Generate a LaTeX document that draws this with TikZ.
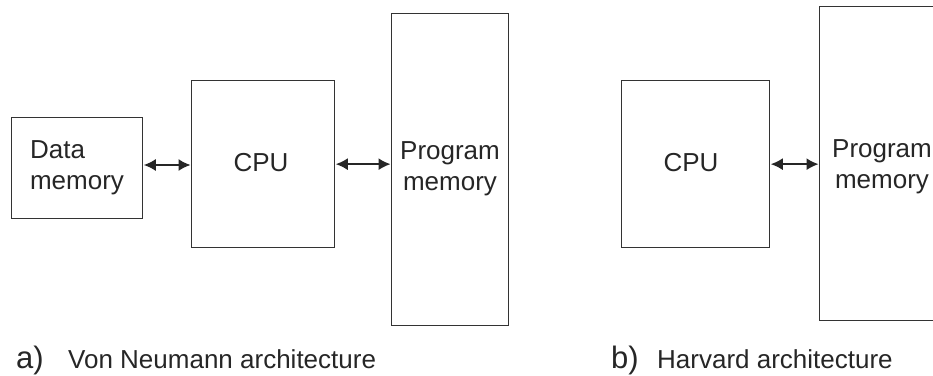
\documentclass[tikz,border=0pt]{standalone}
\usepackage{fontspec}
\setmainfont{Liberation Sans}
\usetikzlibrary{arrows.meta}
\definecolor{ln}{HTML}{333333}
\definecolor{tx}{HTML}{262626}
\tikzset{
  box/.style={draw=ln, line width=1.3pt, anchor=north west, inner sep=0pt},
  lbl/.style={text=tx, font=\fontsize{26}{31}\selectfont, align=center, inner sep=0pt},
  lbll/.style={text=tx, font=\fontsize{26}{31}\selectfont, align=left, inner sep=0pt},
  captxt/.style={text=tx, font=\fontsize{26}{31}\selectfont, anchor=base west, inner sep=0pt},
  capletter/.style={text=tx, font=\fontsize{31}{36}\selectfont, anchor=base west, inner sep=0pt},
  link/.style={draw=black!85, line width=1.5pt, {Latex[length=12pt,width=12pt]}-{Latex[length=12pt,width=12pt]}, shorten <=0.5pt, shorten >=0.5pt}
}
\begin{document}
\begin{tikzpicture}[x=1pt,y=-1pt]
\useasboundingbox (0,0) rectangle (933,375);
\clip (0,0) rectangle (933,375);
% a) Von Neumann
\node[box, minimum width=131pt, minimum height=101pt] (dm) at (11,117) {};
\node[lbll, anchor=center] (dmt) at (77,168) {Data\\memory};
\node[box, minimum width=143pt, minimum height=167pt] (cpu) at (191,80) {};
\node[lbl] (cput) at (261,163) {CPU};
\node[box, minimum width=117pt, minimum height=312pt] (pm) at (391,13) {};
\node[lbl] (pmt) at (450,169) {Program\\memory};
\draw[link] (cpu.west |- 0,165) coordinate (a1) -- (dm.east |- a1);
\draw[link] (cpu.east) -- (pm.west |- cpu.east);
\node[capletter] (la) at (16,368) {a)};
\node[captxt] (lat) at (68,368) {Von Neumann architecture};
% b) Harvard
\node[box, minimum width=148pt, minimum height=167pt] (cpub) at (621,80) {};
\node[lbl] (cpubt) at (691,163) {CPU};
\node[box, minimum width=140pt, minimum height=314pt] (pmb) at (819,6) {};
\node[lbl] (pmbt) at (882,167) {Program\\memory};
\draw[link] (cpub.east) -- (pmb.west |- cpub.east);
\node[capletter] (lb) at (611,368) {b)};
\node[captxt] (lbt) at (657,368) {Harvard architecture};
\end{tikzpicture}
\end{document}
